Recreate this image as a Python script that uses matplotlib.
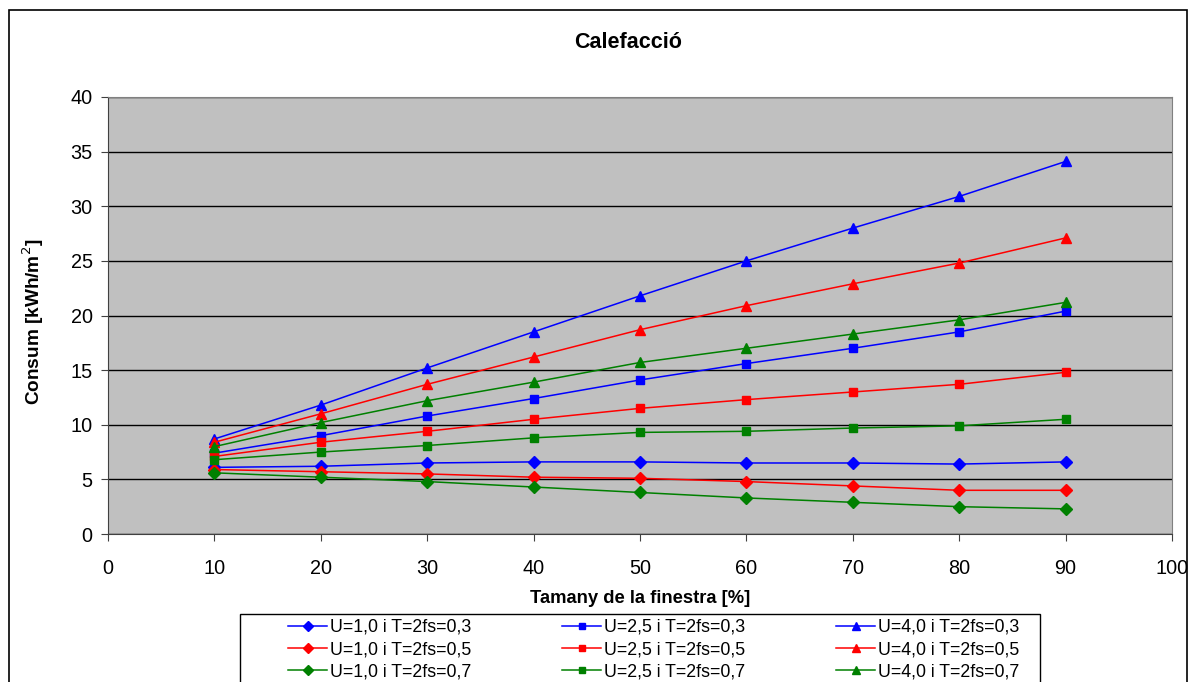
import matplotlib
matplotlib.use("Agg")
import matplotlib.pyplot as plt
from matplotlib.patches import Rectangle

plt.rcParams['font.family'] = ['Liberation Sans', 'DejaVu Sans']

x = [10, 20, 30, 40, 50, 60, 70, 80, 90]

u10_t03 = [6.1, 6.2, 6.5, 6.6, 6.6, 6.5, 6.5, 6.4, 6.6]
u10_t05 = [5.9, 5.7, 5.5, 5.2, 5.1, 4.8, 4.4, 4.0, 4.0]
u10_t07 = [5.6, 5.2, 4.8, 4.3, 3.8, 3.3, 2.9, 2.5, 2.3]

u25_t03 = [7.4, 9.0, 10.8, 12.4, 14.1, 15.6, 17.0, 18.5, 20.4]
u25_t05 = [7.1, 8.4, 9.4, 10.5, 11.5, 12.3, 13.0, 13.7, 14.8]
u25_t07 = [6.8, 7.5, 8.1, 8.8, 9.3, 9.4, 9.7, 9.9, 10.5]

u40_t03 = [8.7, 11.8, 15.2, 18.5, 21.8, 25.0, 28.0, 30.9, 34.1]
u40_t05 = [8.4, 11.0, 13.7, 16.2, 18.7, 20.9, 22.9, 24.8, 27.1]
u40_t07 = [8.0, 10.2, 12.2, 13.9, 15.7, 17.0, 18.3, 19.6, 21.2]

labels = {
    'u10_t03': 'U=1,0 i T=2fs=0,3', 'u10_t05': 'U=1,0 i T=2fs=0,5', 'u10_t07': 'U=1,0 i T=2fs=0,7',
    'u25_t03': 'U=2,5 i T=2fs=0,3', 'u25_t05': 'U=2,5 i T=2fs=0,5', 'u25_t07': 'U=2,5 i T=2fs=0,7',
    'u40_t03': 'U=4,0 i T=2fs=0,3', 'u40_t05': 'U=4,0 i T=2fs=0,5', 'u40_t07': 'U=4,0 i T=2fs=0,7',
}

title = 'Calefacció'
xlabel = 'Tamany de la finestra [%]'
ylabel = 'Consum [kWh/m$^2$]'

W, H = 1190, 682
fig = plt.figure(figsize=(W/100, H/100), dpi=100)
fig.patch.set_facecolor('white')
ax = fig.add_axes([108/W, 1-534/H, (1172-108)/W, (534-97)/H])
ax.set_facecolor('#C0C0C0')

colors = {'03': '#0000FF', '05': '#FF0000', '07': '#008000'}
series = [
    ('u10_t03', u10_t03, 'D', 6), ('u10_t05', u10_t05, 'D', 6), ('u10_t07', u10_t07, 'D', 6),
    ('u25_t03', u25_t03, 's', 6), ('u25_t05', u25_t05, 's', 6), ('u25_t07', u25_t07, 's', 6),
    ('u40_t03', u40_t03, '^', 7), ('u40_t05', u40_t05, '^', 7), ('u40_t07', u40_t07, '^', 7),
]
handles = []
for key, vals, mk, ms in series:
    c = colors[key[-2:]]
    h, = ax.plot(x, vals, color=c, marker=mk, markersize=ms, linewidth=1.1,
                 markeredgecolor=c, markerfacecolor=c, label=labels[key], zorder=3)
    handles.append(h)

ax.set_xlim(0, 100)
ax.set_ylim(0, 40)
ax.set_xticks(range(0, 101, 10))
ax.set_yticks(range(0, 41, 5))
ax.yaxis.grid(True, color='black', linewidth=1)
ax.set_axisbelow(True)
for s in ['top', 'right']:
    ax.spines[s].set_color('#808080')
for s in ['left', 'bottom']:
    ax.spines[s].set_color('#404040')
ax.tick_params(axis='both', labelsize=14.3, length=5, color='#404040')
ax.tick_params(axis='x', pad=13)
ax.tick_params(axis='y', pad=6)

ax.set_xlabel(xlabel, fontsize=13.2, fontweight='bold')
ax.xaxis.set_label_coords(0.5, -(590-534)/437)
ax.set_ylabel(ylabel, fontsize=13.7, fontweight='bold')
ax.yaxis.set_label_coords(-(108-46)/1064, 0.486)
fig.text(628/W, 1-42/H, title, ha='center', va='center', fontsize=15.5, fontweight='bold')

# outer chart border
fig.patches.append(Rectangle((9/W, -0.05), (1187-9)/W, 1.05-10/H,
                             transform=fig.transFigure, fill=False, edgecolor='black',
                             linewidth=1.2, clip_on=False))
# legend frame
fig.patches.append(Rectangle((240/W, -0.05), (1040-240)/W, 1.05-614/H,
                             transform=fig.transFigure, fill=False, edgecolor='black',
                             linewidth=1.0, clip_on=False))

leg = fig.legend(handles=handles, loc='upper left', ncol=3,
                 bbox_to_anchor=(288/W, 1-619/H),
                 fontsize=12.8, frameon=False, markerscale=0.8,
                 handlelength=2.2, handletextpad=0.17, labelspacing=0.3,
                 borderaxespad=0, borderpad=0, columnspacing=5.1)

fig.savefig('out.png', dpi=100)
